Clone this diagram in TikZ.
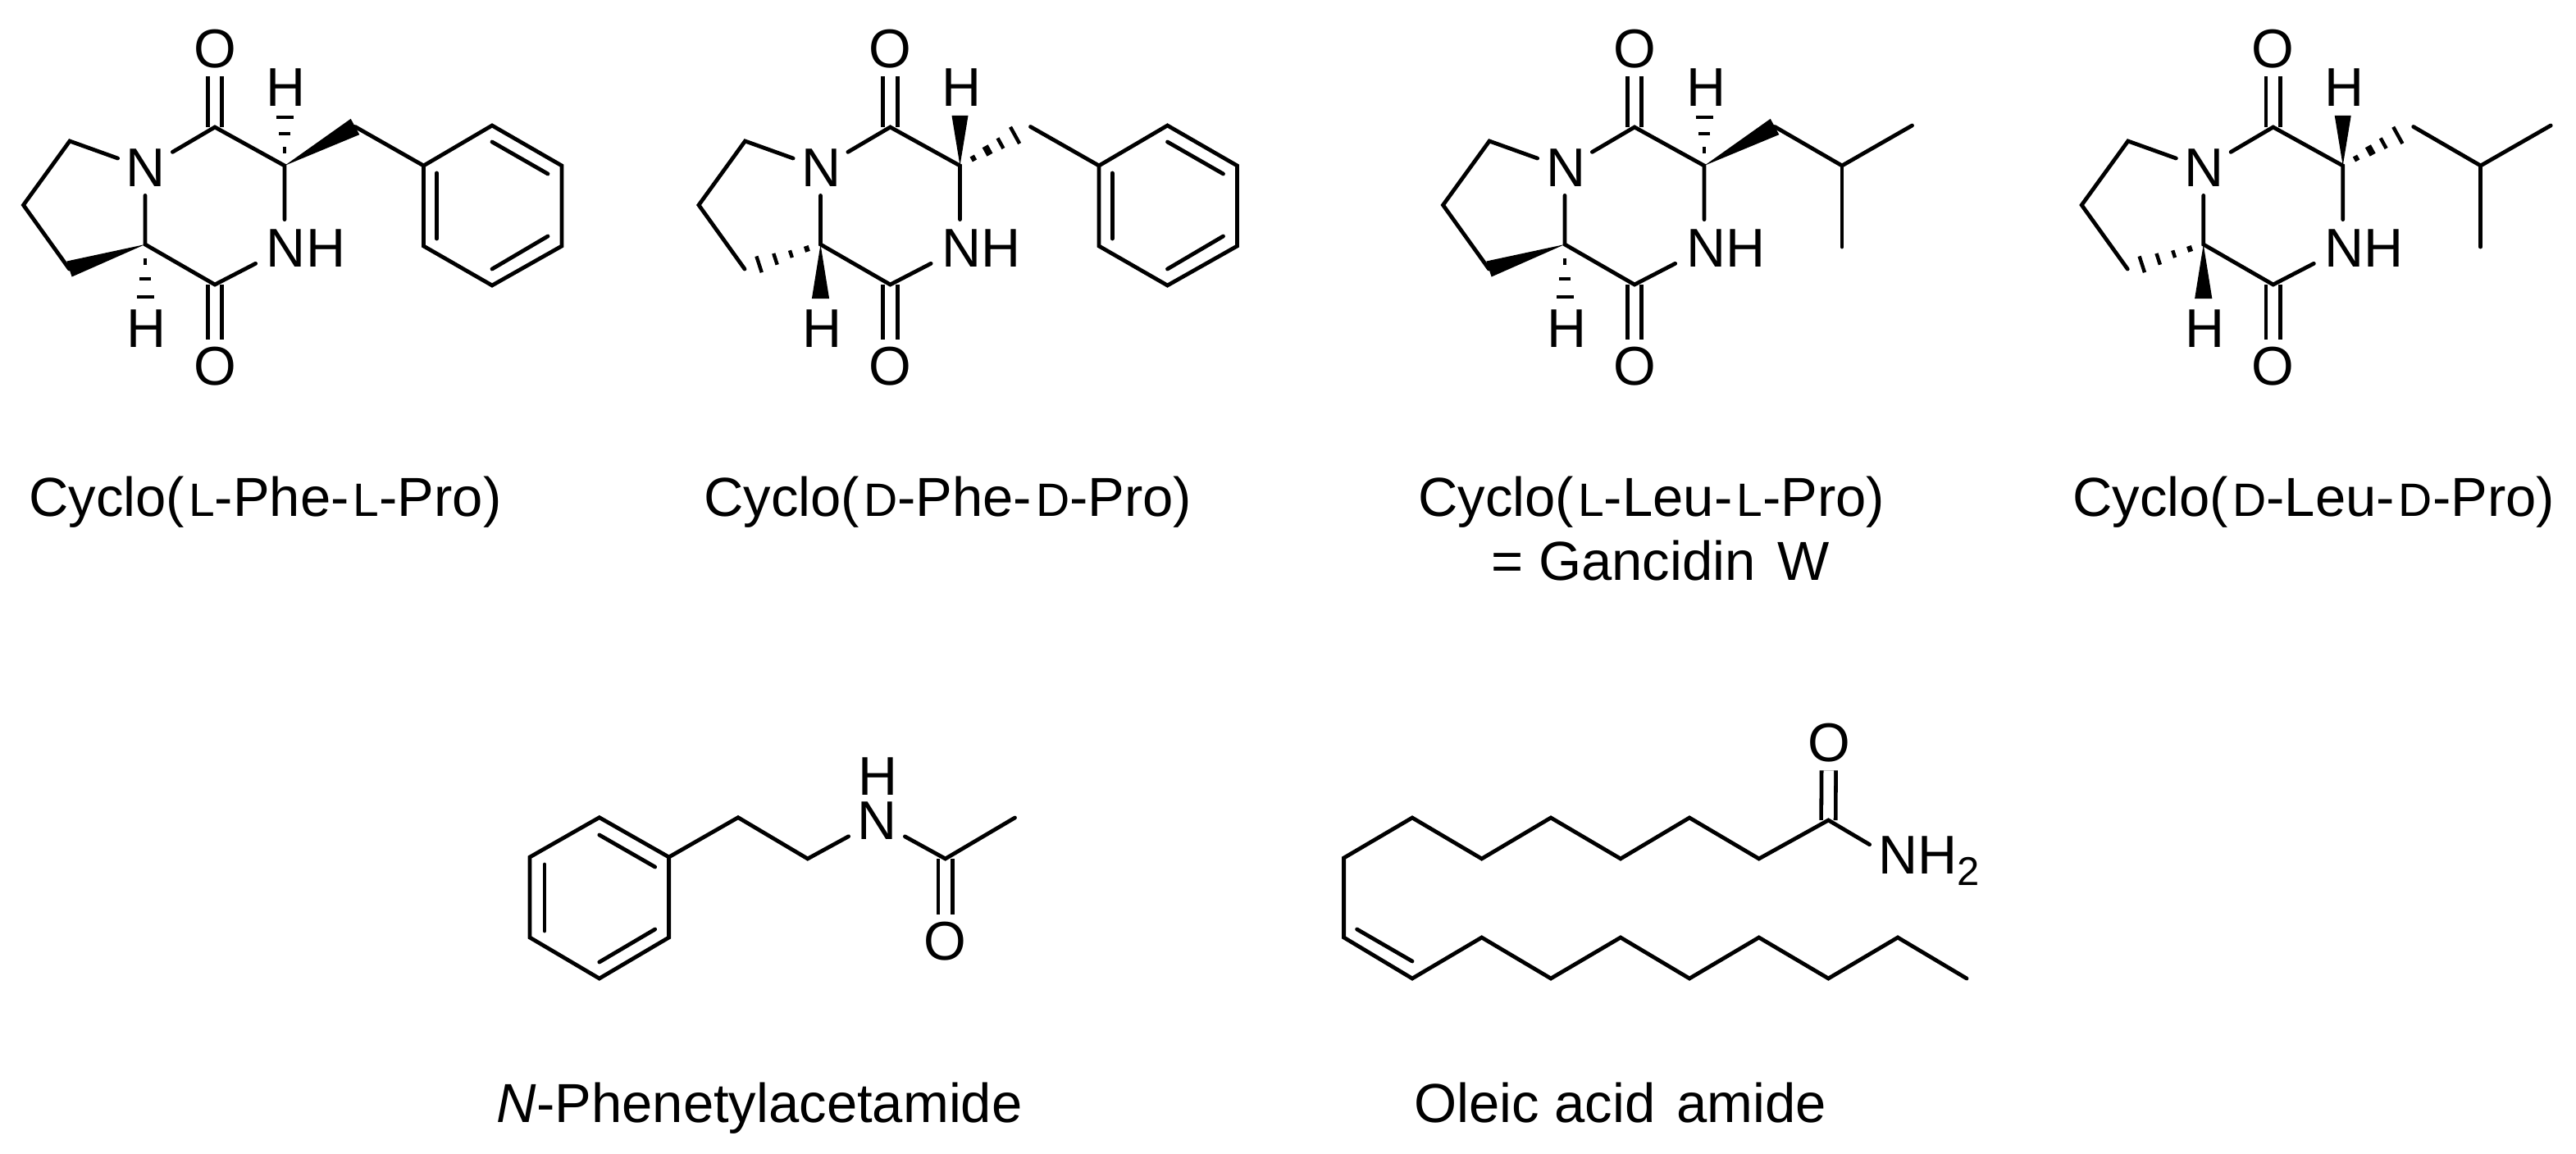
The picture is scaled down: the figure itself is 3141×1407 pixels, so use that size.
\documentclass[tikz,border=0pt]{standalone}
\usepackage{fontspec}
\setmainfont{Liberation Sans}
\usetikzlibrary{calc}
\newcommand\lab{\fontsize{33.25}{40}\selectfont}
\newcommand\capfont{\fontsize{33.5}{40}\selectfont}
\newcommand\smc[1]{\hspace{2.5pt}{\fontsize{28.5}{40}\selectfont #1}}
\tikzset{
  bond/.style={line width=2.4pt,line cap=round,line join=miter,miter limit=10},
  dbl/.style={line width=2.4pt,double,double distance=6.3pt},
  atomlab/.style={inner sep=0pt,minimum size=33pt,font=\lab},
  hlab/.style={inner sep=0pt,font=\lab},
  amine/.style={atomlab,minimum size=35pt},
  caption/.style={inner sep=0pt,anchor=base west,font=\capfont}
}
\newcommand\wedgebond[3]{\fill (#1) -- ($(#2)!#3!90:(#1)$) -- ($(#2)!#3!-90:(#1)$) -- cycle;}
\newcommand\hashbond[3]{\foreach \t/\w/\l in {#3}{%
  \coordinate (hbm) at ($(#1)!\t!(#2)$);
  \draw[line width=\l pt,line cap=butt] ($(hbm)!\w pt!90:(#2)$) -- ($(hbm)!\w pt!-90:(#2)$);}}
% the diketopiperazine core shared by the four cyclodipeptides
\newcommand\dkpcore[1]{%
  \coordinate (#1Ca) at (262,155);
  \coordinate (#1Cb) at (347,202);
  \coordinate (#1Cc) at (262,347);
  \coordinate (#1Cd) at (177,298);
  \coordinate (#1Ra) at (85,172);
  \coordinate (#1Rb) at (28.5,250);
  \coordinate (#1Rc) at (84.5,328);
  \coordinate (#1S) at (433,154.5);
  \coordinate (#1Hue) at (347,141);
  \coordinate (#1Hde) at (177,364);
  \node[atomlab] (#1N) at (177,205) {\hspace{1pt}N};
  \node[amine] (#1NH) at (347,303) {\hspace{2pt}N\rlap{H}};
  \node[atomlab] (#1Ot) at (262,60) {O};
  \node[atomlab] (#1Ob) at (262,447) {O};
  \node[hlab] (#1Ht) at (349,107) {H};
  \node[hlab] (#1Hb) at (179,401) {H};
  \draw[dbl] (#1Ca) -- (#1Ot);
  \draw[dbl] (#1Cc) -- (#1Ob);
  \draw[bond] (#1N) -- (#1Ra) -- (#1Rb) -- (#1Rc);
  \draw[bond] (#1N) -- (#1Ca) -- (#1Cb) -- (#1NH) -- (#1Cc) -- (#1Cd) -- (#1N);
}
\newcommand\stereoL[1]{%
  \wedgebond{#1Cb}{#1S}{5.5pt}
  \wedgebond{#1Cd}{#1Rc}{5pt}
  \hashbond{#1Cb}{#1Hue}{0.31/1.15/4,0.64/3.5/2.35,0.975/5.25/2}
  \hashbond{#1Cd}{#1Hde}{0.32/1.15/4,0.636/3.5/2.35,0.97/5.25/2.2}
}
\newcommand\stereoD[1]{%
  \wedgebond{#1Cb}{#1Hue}{5pt}
  \wedgebond{#1Cd}{#1Hde}{5.3pt}
  \hashbond{#1Cb}{#1S}{0.19/1.7/3,0.39/3/4,0.575/3.6/2.2,0.78/5.8/2.2}
  \hashbond{#1Cd}{#1Rc}{0.18/1.8/3,0.39/2.3/2.2,0.595/3.6/2.2,0.81/5.2/2.2}
}
\newcommand\benzyl[1]{%
  \coordinate (#1Pa) at (516.5,202);
  \coordinate (#1Pb) at (600,153);
  \coordinate (#1Pc) at (685,202);
  \coordinate (#1Pd) at (685,300);
  \coordinate (#1Pe) at (600,348);
  \coordinate (#1Pf) at (516.5,300);
  \coordinate (#1Ia) at (600,173);
  \coordinate (#1Ib) at (668,212);
  \coordinate (#1Ic) at (532.6,211);
  \coordinate (#1Id) at (532.6,291);
  \coordinate (#1Ie) at (600,328);
  \coordinate (#1If) at (668,288);
  \draw[bond] (#1S) -- (#1Pa);
  \draw[bond] (#1Pa) -- (#1Pb) -- (#1Pc) -- (#1Pd) -- (#1Pe) -- (#1Pf) -- cycle;
  \draw[bond] (#1Ia) -- (#1Ib);
  \draw[bond] (#1Ic) -- (#1Id);
  \draw[bond] (#1Ie) -- (#1If);
}
\newcommand\isobutyl[1]{%
  \coordinate (#1La) at (515,202);
  \coordinate (#1Lb) at (600.5,153);
  \coordinate (#1Lc) at (515,301);
  \draw[bond] (#1S) -- (#1La) -- (#1Lb);
  \draw[bond] (#1La) -- (#1Lc);
}
\begin{document}
\begin{tikzpicture}[x=0.5pt,y=-0.5pt]
\path[use as bounding box,fill=white] (0,0) rectangle (3141,1407);
\begin{scope}[shift={(0,0)}]\dkpcore{a}\stereoL{a}\benzyl{a}\end{scope}
\begin{scope}[shift={(823.5,0)}]\dkpcore{b}\stereoD{b}\benzyl{b}\end{scope}
\begin{scope}[shift={(1731,0)}]\dkpcore{c}\stereoL{c}\isobutyl{c}\end{scope}
\begin{scope}[shift={(2509.7,0)}]\dkpcore{d}\stereoD{d}\isobutyl{d}\end{scope}
% captions
\node[caption] (capa) at (35,629) {Cyclo(\smc{L}-Phe-\smc{L}-Pro)};
\node[caption] (capb) at (858,629) {Cyclo(\smc{D}-Phe-\smc{D}-Pro)};
\node[caption] (capc) at (1729,629) {Cyclo(\smc{L}-Leu-\smc{L}-Pro)};
\node[caption] (capg) at (1818,707) {= Gancidin\hspace{4pt} W};
\node[caption] (capd) at (2527,629) {Cyclo(\smc{D}-Leu-\smc{D}-Pro)};
\node[caption] (cape) at (605.5,1368) {\textit{N}-Phenetylacetamide};
\node[caption] (capf) at (1724,1368) {Oleic acid\hspace{3.5pt} amide};
% N-phenethylacetamide
\coordinate (ea) at (646,1045);
\coordinate (eb) at (730.8,996.7);
\coordinate (ec) at (815.6,1045);
\coordinate (ed) at (815.6,1143);
\coordinate (ee) at (730.8,1193);
\coordinate (ef) at (646,1143);
\coordinate (eia) at (730.8,1018);
\coordinate (eib) at (798.7,1057);
\coordinate (eic) at (664,1054);
\coordinate (eid) at (664,1135);
\coordinate (eie) at (730.8,1173);
\coordinate (eif) at (798.7,1133);
\coordinate (eg) at (900,996.7);
\coordinate (eh) at (984.8,1047);
\coordinate (ei) at (1152.7,1047);
\coordinate (ej) at (1237.5,997);
\node[atomlab,minimum width=34pt] (eN) at (1069,1001) {N};
\node[hlab] (eH) at (1070,947) {H};
\node[atomlab] (eO) at (1152.7,1148) {O};
\draw[dbl] (ei) -- (eO);
\draw[bond] (ea) -- (eb) -- (ec) -- (ed) -- (ee) -- (ef) -- cycle;
\draw[bond] (eia) -- (eib);
\draw[bond] (eic) -- (eid);
\draw[bond] (eie) -- (eif);
\draw[bond] (ec) -- (eg) -- (eh) -- (eN) -- (ei) -- (ej);
% oleamide
\coordinate (fa) at (1638.6,1046);
\coordinate (fb) at (1722,997);
\coordinate (fc) at (1806.7,1047);
\coordinate (fd) at (1891,997);
\coordinate (fe) at (1976,1047);
\coordinate (ff) at (2060,997);
\coordinate (fg) at (2144.7,1047);
\coordinate (fh) at (2229.4,1000);
\coordinate (ga) at (1638.6,1143);
\coordinate (gb) at (1722,1193);
\coordinate (gc) at (1806.7,1143);
\coordinate (gd) at (1891,1193);
\coordinate (ge) at (1976,1143);
\coordinate (gf) at (2060,1193);
\coordinate (gg) at (2144.7,1143);
\coordinate (gh) at (2229.4,1193);
\coordinate (gi) at (2314,1143);
\coordinate (gj) at (2398,1193);
\coordinate (gia) at (1654.6,1133);
\coordinate (gib) at (1722,1172);
\node[atomlab] (fO) at (2230,906) {O};
\node[atomlab,minimum width=34pt] (fN) at (2314,1050) {N\rlap{H\raisebox{-7pt}{\fontsize{24.5}{30}\selectfont 2}}};
\draw[dbl] (fh) -- (fO);
\draw[bond] (fN) -- (fh) -- (fg) -- (ff) -- (fe) -- (fd) -- (fc) -- (fb) -- (fa) -- (ga) -- (gb) -- (gc) -- (gd) -- (ge) -- (gf) -- (gg) -- (gh) -- (gi) -- (gj);
\draw[bond] (gia) -- (gib);
\end{tikzpicture}
\end{document}
